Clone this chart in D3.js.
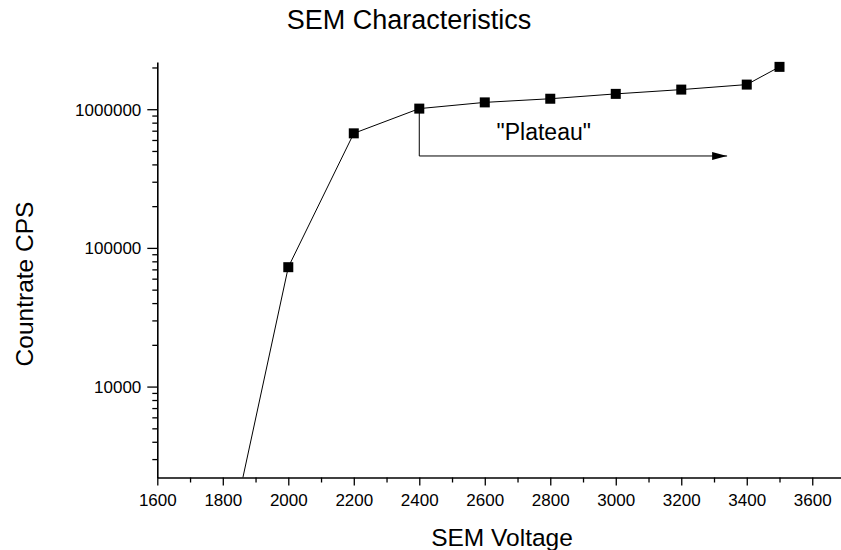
<!DOCTYPE html>
<html>
<head>
<meta charset="utf-8">
<script src="https://cdn.jsdelivr.net/npm/d3@7"></script>
<style>
  body { margin: 0; background: #fff; }
  svg { font-family: "Liberation Sans", Arial, sans-serif; }
</style>
</head>
<body>
<div id="chart"></div>
<script>
// SEM voltage vs count rate
const voltages = [1800, 2000, 2200, 2400, 2600, 2800, 3000, 3200, 3400, 3500];
const countrates = [470, 72600, 670000, 1010000, 1120000, 1190000, 1290000, 1385000, 1505000, 2020000];

const xMajorTicks = [1600, 1800, 2000, 2200, 2400, 2600, 2800, 3000, 3200, 3400, 3600];
const xMinorTicks = [1700, 1900, 2100, 2300, 2500, 2700, 2900, 3100, 3300, 3500];
const yMajorTicks = [10000, 100000, 1000000];

// "Plateau" arrow annotation
const plateauStart = [2400, 1010000];
const plateauEnd = [3340, 460000];
const plateauLabel = '"Plateau"';
const plateauLabelPos = [2780, 600000];

const W = 841, H = 550;
const plotLeft = 157.3, plotBottom = 477.5, plotTop = 62;

const svg = d3.select('#chart').append('svg')
  .attr('width', W)
  .attr('height', H);

const x = d3.scaleLinear().domain([1600, 3700]).range([plotLeft, 845]);
const y = d3.scaleLog().domain([2210, 2190000]).range([plotBottom, plotTop]);

const defs = svg.append('defs');
defs.append('clipPath').attr('id', 'plot')
  .append('rect')
  .attr('x', plotLeft).attr('y', 0)
  .attr('width', W - plotLeft).attr('height', plotBottom);

// minor ticks
const yMinor = [];
for (let e = 3; e <= 6; e++) {
  for (let k = 2; k <= 9; k++) {
    const v = k * Math.pow(10, e);
    if (v >= y.domain()[0] && v <= y.domain()[1]) yMinor.push(v);
  }
}

svg.append('g')
  .attr('transform', `translate(0,${plotBottom})`)
  .call(d3.axisBottom(x).tickValues(xMinorTicks).tickSize(5).tickSizeOuter(0).tickFormat(''))
  .call(g => g.select('.domain').remove())
  .selectAll('line').attr('stroke-width', 1.3);

svg.append('g')
  .attr('transform', `translate(${plotLeft},0)`)
  .call(d3.axisLeft(y).tickValues(yMinor).tickSize(5).tickSizeOuter(0).tickFormat(''))
  .call(g => g.select('.domain').remove())
  .selectAll('line').attr('stroke-width', 1.3);

// major axes
const xAxis = svg.append('g')
  .attr('transform', `translate(0,${plotBottom})`)
  .call(d3.axisBottom(x).tickValues(xMajorTicks).tickSize(8).tickSizeOuter(0).tickPadding(8).tickFormat(d3.format('d')));

const yAxis = svg.append('g')
  .attr('transform', `translate(${plotLeft},0)`)
  .call(d3.axisLeft(y).tickValues(yMajorTicks).tickSize(10).tickSizeOuter(0).tickPadding(6).tickFormat(d3.format('d')));

[xAxis, yAxis].forEach(g => {
  g.select('.domain').attr('stroke-width', 1.6);
  g.selectAll('line').attr('stroke-width', 1.3);
  g.selectAll('text')
    .attr('font-family', '"Liberation Sans", Arial, sans-serif')
    .attr('font-size', 17)
    .attr('fill', '#000');
});
yAxis.selectAll('text').attr('dy', '0.35em');

// data line and markers
const plotArea = svg.append('g').attr('clip-path', 'url(#plot)');
const pts = voltages.map((v, i) => [v, countrates[i]]);

plotArea.append('path')
  .datum(pts)
  .attr('fill', 'none')
  .attr('stroke', '#000')
  .attr('stroke-width', 1)
  .attr('d', d3.line().x(d => x(d[0])).y(d => y(d[1])));

const ms = 10;
plotArea.selectAll('rect.pt')
  .data(pts)
  .join('rect')
  .attr('class', 'pt')
  .attr('x', d => x(d[0]) - ms / 2)
  .attr('y', d => y(d[1]) - ms / 2)
  .attr('width', ms)
  .attr('height', ms)
  .attr('fill', '#000');

// plateau arrow
defs.append('marker')
  .attr('id', 'arrow')
  .attr('viewBox', '0 0 15 8')
  .attr('refX', 15).attr('refY', 4)
  .attr('markerWidth', 15).attr('markerHeight', 8)
  .attr('markerUnits', 'userSpaceOnUse')
  .attr('orient', 'auto')
  .append('path')
  .attr('d', 'M0,0 L15,4 L0,8 Z')
  .attr('fill', '#000');

svg.append('path')
  .attr('fill', 'none')
  .attr('stroke', '#000')
  .attr('stroke-width', 1)
  .attr('marker-end', 'url(#arrow)')
  .attr('d', `M${x(plateauStart[0])},${y(plateauStart[1])} V${y(plateauEnd[1])} H${x(plateauEnd[0])}`);

svg.append('text')
  .attr('x', x(plateauLabelPos[0]))
  .attr('y', y(plateauLabelPos[1]))
  .attr('text-anchor', 'middle')
  .attr('font-size', 23)
  .text(plateauLabel);

// titles
svg.append('text')
  .attr('x', 409).attr('y', 29)
  .attr('text-anchor', 'middle')
  .attr('font-size', 27)
  .text('SEM Characteristics');

svg.append('text')
  .attr('x', 502).attr('y', 546)
  .attr('text-anchor', 'middle')
  .attr('font-size', 24.5)
  .text('SEM Voltage');

svg.append('text')
  .attr('transform', 'translate(33,284) rotate(-90)')
  .attr('text-anchor', 'middle')
  .attr('font-size', 24.5)
  .text('Countrate CPS');
</script>
</body>
</html>
